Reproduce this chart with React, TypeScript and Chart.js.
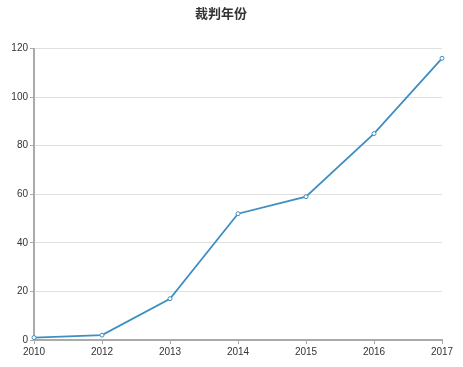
import React, { useEffect, useRef } from "react";
import { Chart, registerables } from "chart.js";

Chart.register(...registerables);

const years = ["2010", "2012", "2013", "2014", "2015", "2016", "2017"];
const counts = [1, 2, 17, 52, 59, 85, 116];
const chartTitle = "裁判年份";

export default function App() {
  const ref = useRef<HTMLCanvasElement | null>(null);
  useEffect(() => {
    document.body.style.margin = "0";
    const ctx = ref.current!;
    const chart = new Chart(ctx, {
      type: "line",
      data: {
        labels: years,
        datasets: [
          {
            data: counts,
            borderColor: "#3d8fc2",
            borderWidth: 1.8,
            backgroundColor: "#ffffff",
            pointBorderColor: "#3d8fc2",
            pointBackgroundColor: "#ffffff",
            pointRadius: 2,
            pointBorderWidth: 1,
            tension: 0,
            fill: false,
          },
        ],
      },
      options: {
        animation: false,
        responsive: false,
        maintainAspectRatio: false,
        layout: { padding: { left: 0, right: 21, top: 0, bottom: 0 } },
        plugins: {
          legend: { display: false },
          tooltip: { enabled: false },
          title: {
            display: true,
            text: chartTitle,
            color: "#333",
            font: { size: 13, weight: "bold", family: "'Noto Sans CJK SC', sans-serif" },
            padding: { top: 5, bottom: 28 },
          },
        },
        scales: {
          x: {
            offset: false,
            grid: {
              drawOnChartArea: false,
              drawTicks: true,
              tickLength: 4,
              tickColor: "#aaa",
            },
            border: { color: "#aaa", width: 2 },
            ticks: {
              color: "#333",
              font: { size: 10, family: "'Liberation Sans', Arial, sans-serif" },
              padding: 2,
              maxRotation: 0,
              autoSkip: false,
            },
            afterFit: (s: any) => {
              s.height = 27;
            },
          },
          y: {
            min: 0,
            max: 120,
            grid: {
              color: "#e0e0e0",
              lineWidth: 1,
              drawTicks: true,
              tickLength: 4,
              tickColor: "#aaa",
            },
            border: { color: "#aaa", width: 2 },
            ticks: {
              stepSize: 20,
              color: "#333",
              font: { size: 10, family: "'Liberation Sans', Arial, sans-serif" },
              padding: 2,
            },
            afterFit: (s: any) => {
              s.width = 34;
            },
          },
        },
      },
    });
    return () => chart.destroy();
  }, []);
  return (
    <div style={{ width: 463, height: 367 }}>
      <canvas ref={ref} width={463} height={367} style={{ display: "block" }} />
    </div>
  );
}
